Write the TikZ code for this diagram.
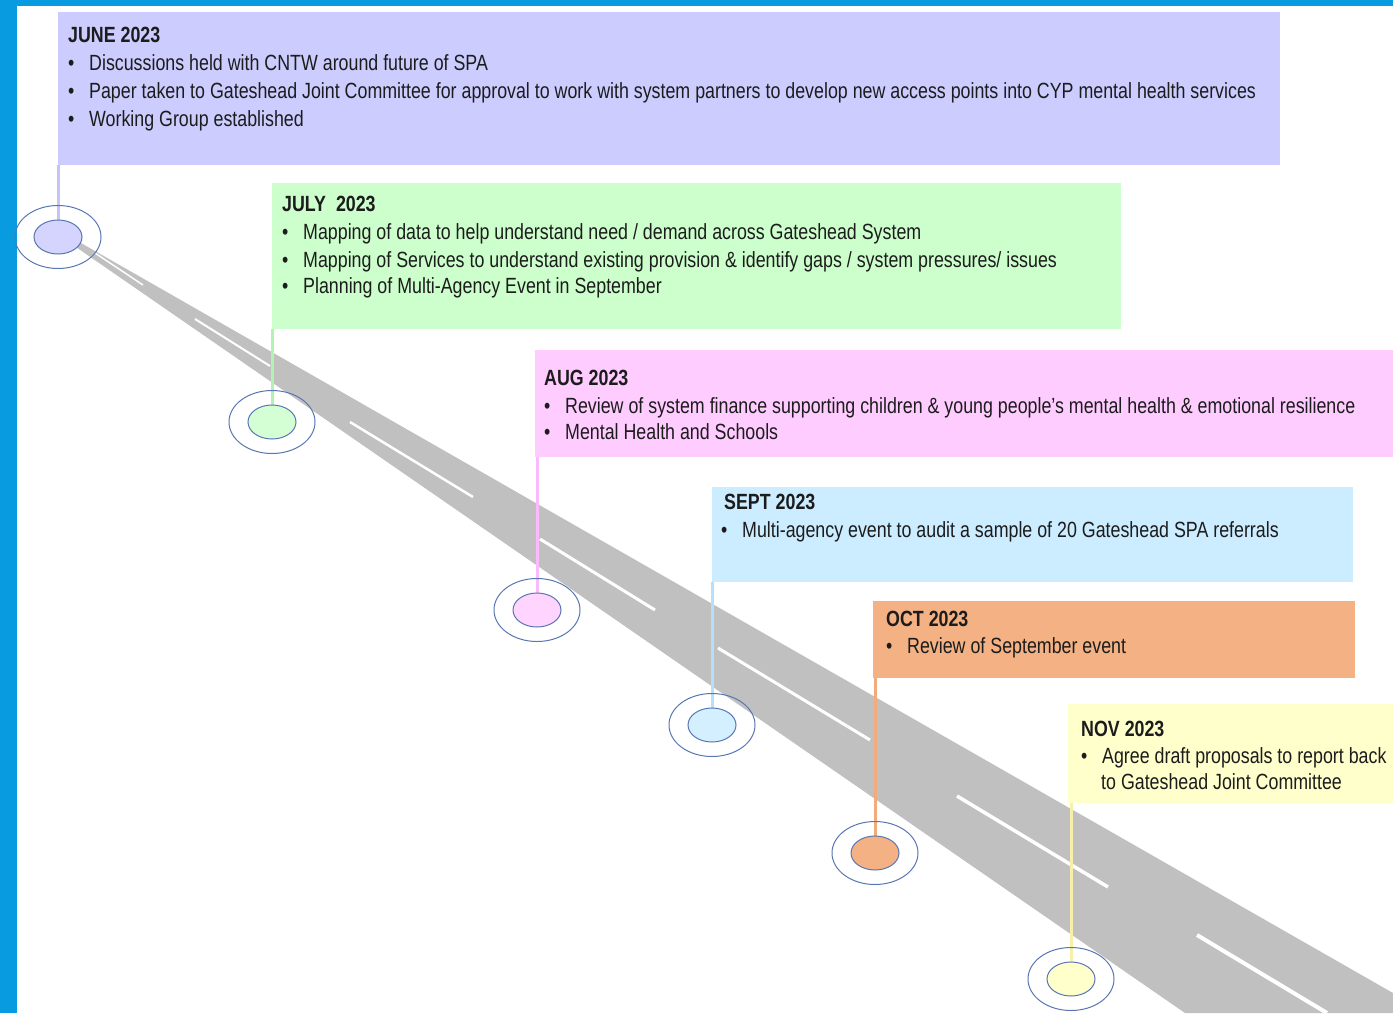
\documentclass[tikz,border=0pt]{standalone}
\usepackage{fontspec}
\setmainfont{Liberation Sans}[FakeStretch=0.81]
\usetikzlibrary{shapes.geometric}
\definecolor{frameblue}{RGB}{8,155,224}
\definecolor{roadgray}{RGB}{192,192,192}
\definecolor{textcol}{RGB}{28,28,28}
\definecolor{ringcol}{RGB}{88,118,178}
\definecolor{junefill}{RGB}{204,204,255}
\definecolor{julyfill}{RGB}{204,255,204}
\definecolor{augfill}{RGB}{255,204,255}
\definecolor{septfill}{RGB}{204,236,255}
\definecolor{octfill}{RGB}{244,177,131}
\definecolor{novfill}{RGB}{255,255,204}
\definecolor{juneline}{RGB}{196,196,248}
\definecolor{julyline}{RGB}{180,242,180}
\definecolor{augline}{RGB}{252,186,252}
\definecolor{septline}{RGB}{180,224,250}
\definecolor{octline}{RGB}{242,172,124}
\definecolor{novline}{RGB}{246,240,170}
\newcommand\bl[1]{\makebox[21pt][l]{•}#1}
\begin{document}
\begin{tikzpicture}[x=1pt,y=-1pt,
  txt/.style={inner sep=0pt, anchor=base west, text=textcol, font=\fontsize{22}{26}\selectfont},
  ttl/.style={txt, font=\fontsize{22}{26}\selectfont\bfseries},
  box/.style={rectangle, anchor=north west, inner sep=0pt, draw=none},
  conn/.style={line width=3pt},
  hubring/.style={ellipse, draw=ringcol, line width=1pt, minimum width=86pt, minimum height=63pt, inner sep=0pt},
  hubdot/.style={ellipse, draw=ringcol, line width=1pt, minimum width=48pt, minimum height=34pt, inner sep=0pt},
  lane/.style={draw=white, line cap=butt}]
\useasboundingbox (0,0) rectangle (1393,1013);
\fill[white] (0,0) rectangle (1393,1013);
% frame
\fill[frameblue] (0,0) rectangle (17,1013);
\fill[frameblue] (0,0) rectangle (1393,6);
% road
\fill[roadgray] (60,231) -- (1393,993) -- (1393,1013) -- (1185,1013) -- (60,236) -- cycle;
\draw[lane, line width=1.5pt] (95,253) -- (143,285);
\draw[lane, line width=2pt] (195,319) -- (270,366);
\draw[lane, line width=2.5pt] (350,422) -- (473,497);
\draw[lane, line width=3pt] (540,539) -- (655,610);
\draw[lane, line width=3pt] (718,648) -- (870,740);
\draw[lane, line width=3.5pt] (957,796) -- (1108,887);
\draw[lane, line width=4pt] (1197,935) -- (1327,1013);
% boxes
\node[box, fill=junefill, minimum width=1222pt, minimum height=153pt] (b1) at (58,12) {};
\node[box, fill=julyfill, minimum width=849pt, minimum height=146pt] (b2) at (272,183) {};
\node[box, fill=augfill, minimum width=858pt, minimum height=107pt] (b3) at (535,350) {};
\node[box, fill=septfill, minimum width=641pt, minimum height=95pt] (b4) at (712,487) {};
\node[box, fill=octfill, minimum width=482pt, minimum height=77pt] (b5) at (873,601) {};
\node[box, fill=novfill, minimum width=325pt, minimum height=99pt] (b6) at (1068,704) {};
% hub positions
\coordinate (p1) at (58,237);
\coordinate (p2) at (272,422);
\coordinate (p3) at (537,610);
\coordinate (p4) at (712,725);
\coordinate (p5) at (875,853);
\coordinate (p6) at (1071,979);
% connectors
\draw[conn, draw=juneline] (p1 |- b1.south) -- (p1);
\draw[conn, draw=julyline] (p2 |- b2.south) -- (p2);
\draw[conn, draw=augline] (p3 |- b3.south) -- (p3);
\draw[conn, draw=septline] (p4 |- b4.south) -- (p4);
\draw[conn, draw=octline] (p5 |- b5.south) -- (p5);
\draw[conn, draw=novline] (p6 |- b6.south) -- (p6);
% hubs
\node[hubring] (r1) at (p1) {};
\node[hubring] (r2) at (p2) {};
\node[hubring] (r3) at (p3) {};
\node[hubring] (r4) at (p4) {};
\node[hubring] (r5) at (p5) {};
\node[hubring] (r6) at (p6) {};
\node[hubdot, fill=junefill!85!white] (c1) at (p1) {};
\node[hubdot, fill=julyfill!85!white] (c2) at (p2) {};
\node[hubdot, fill=augfill!85!white] (c3) at (p3) {};
\node[hubdot, fill=septfill!85!white] (c4) at (p4) {};
\node[hubdot, fill=octfill] (c5) at (p5) {};
\node[hubdot, fill=novfill] (c6) at (p6) {};
% texts
\node[ttl] (t1) at (68,42) {JUNE 2023};
\node[txt] (t1a) at (68,70) {\bl{Discussions held with CNTW around future of SPA}};
\node[txt] (t1b) at (68,98) {\bl{Paper taken to Gateshead Joint Committee for approval to work with system partners to develop new access points into CYP mental health services}};
\node[txt] (t1c) at (68,126) {\bl{Working Group established}};
\node[ttl] (t2) at (282,211) {JULY\ \ 2023};
\node[txt] (t2a) at (282,239) {\bl{Mapping of data to help understand need / demand across Gateshead System}};
\node[txt] (t2b) at (282,267) {\bl{Mapping of Services to understand existing provision \& identify gaps / system pressures/ issues}};
\node[txt] (t2c) at (282,293) {\bl{Planning of Multi-Agency Event in September}};
\node[ttl] (t3) at (544,385) {AUG 2023};
\node[txt] (t3a) at (544,413) {\bl{Review of system finance supporting children \& young people’s mental health \& emotional resilience}};
\node[txt] (t3b) at (544,439) {\bl{Mental Health and Schools}};
\node[ttl] (t4) at (724,509) {SEPT 2023};
\node[txt] (t4a) at (721,537) {\bl{Multi-agency event to audit a sample of 20 Gateshead SPA referrals}};
\node[ttl] (t5) at (886,626) {OCT 2023};
\node[txt] (t5a) at (886,653) {\bl{Review of September event}};
\node[ttl] (t6) at (1081,736) {NOV 2023};
\node[txt] (t6a) at (1081,763) {\bl{Agree draft proposals to report back}};
\node[txt] (t6b) at (1101,789) {to Gateshead Joint Committee};
\end{tikzpicture}
\end{document}
